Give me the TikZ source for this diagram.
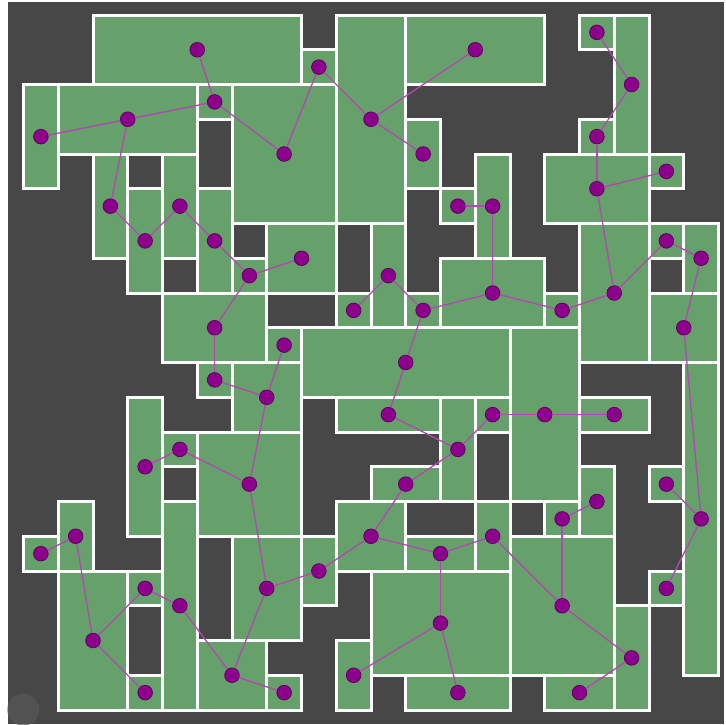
\documentclass[tikz,border=0pt]{standalone}
\usetikzlibrary{calc}
\definecolor{bgdark}{RGB}{71,71,71}
\definecolor{roomgreen}{RGB}{102,160,106}
\definecolor{dotfill}{RGB}{140,0,140}
\definecolor{dotline}{RGB}{95,0,95}
\definecolor{linkcol}{RGB}{178,72,178}
\definecolor{cursorgray}{RGB}{88,88,88}
\tikzset{
  roomsty/.style={fill=roomgreen,draw=white,line width=3pt},
  dot/.style={circle,inner sep=0pt,minimum size=14.6pt,fill=dotfill,draw=dotline,line width=0.8pt},
  link/.style={draw=linkcol,line width=1.3pt},
}
\newcommand\room[5]{\draw[roomsty] (#2,#3) rectangle (#4,#5);}
\newcommand\dotat[5]{\node[dot] (#1) at ($(#2,#3)!0.5!(#4,#5)$) {};}
\begin{document}
\begin{tikzpicture}[x=34.75pt,y=-34.75pt]
\useasboundingbox (-0.67626,-0.43165) rectangle (20.21583,20.40288);
\fill[white] (-0.67626,-0.43165) rectangle (20.21583,20.40288);
\fill[bgdark] (-0.44604,-0.37410) rectangle (20.16,20.40288);
\node[circle,inner sep=0pt,minimum size=32pt,fill=cursorgray,opacity=0.7] (cursor) at (-0.0058,19.99) {};
\def\rooms{A/2/0/8/2,B/8/1/9/2,C/9/0/11/6,D/11/0/15/2,E/16/0/17/1,F/17/0/18/4,
G/0/2/1/5,H/1/2/5/4,I/5/2/6/3,J/6/2/9/6,K/11/3/12/5,L/16/3/17/4,M/15/4/18/6,
N/18/4/19/5,O/12/5/13/6,P/13/4/14/7,Q/2/4/3/7,R/3/5/4/8,S/4/4/5/7,T/5/5/6/8,
U/6/7/7/8,V/7/6/9/8,W/10/6/11/9,X/9/8/10/9,Y/11/8/12/9,Z/4/8/7/10,AA/7/9/8/10,
AB/8/9/14/11,AC/14/9/16/14,AD/16/11/18/12,AE/18/13/19/14,AF/16/13/17/15,
AG/15/14/16/15,AH/13/14/14/16,AI/14/15/17/19,AJ/17/17/18/20,AK/18/16/19/17,
AL/19/10/20/19,AM/15/19/17/20,AN/10/16/14/19,AO/11/19/14/20,AP/9/18/10/20,
AQ/9/14/11/16,AR/11/15/13/16,AS/10/13/12/14,AT/8/15/9/17,AU/6/15/8/18,
AV/5/12/8/15,AW/7/19/8/20,AX/5/18/7/20,AY/0/15/1/16,AZ/1/14/2/16,BA/1/16/3/20,
BB/3/16/4/17,BC/3/19/4/20,BD/3/11/4/15,BE/4/12/5/13,BF/4/14/5/20,BG/5/10/6/11,
BH/6/10/8/12,BI/9/11/12/12,BJ/12/11/13/14,BK/13/11/14/12,BL/18/8/20/10,
BM/19/6/20/8,BN/16/6/18/10,BO/12/7/15/9,BP/15/8/16/9,BQ/18/6/19/7}
\foreach \n/\a/\b/\c/\d in \rooms {\room{\n}{\a}{\b}{\c}{\d}}
\foreach \n/\a/\b/\c/\d in \rooms {\dotat{\n}{\a}{\b}{\c}{\d}}
\foreach \u/\v in {A/I,I/H,H/G,H/Q,I/J,J/B,B/C,C/D,C/K,O/P,P/BO,E/F,F/L,L/M,M/N,M/BN,
Q/R,R/S,S/T,T/U,U/V,U/Z,Z/BG,BG/BH,AA/BH,BH/AV,AV/AU,BE/AV,BD/BE,W/X,W/Y,Y/BO,Y/AB,
AB/BI,BI/BJ,BJ/BK,BJ/AS,BO/BP,BP/BN,BN/BQ,BQ/BM,BM/BL,BL/AL,BK/AC,AC/AD,AE/AL,AL/AK,
AG/AF,AG/AI,AH/AI,AI/AJ,AJ/AM,AS/AQ,AQ/AR,AR/AH,AR/AN,AN/AP,AN/AO,AQ/AT,AT/AU,AU/AX,
AX/AW,BB/BF,BF/AX,BA/BB,BA/AZ,AZ/AY,BA/BC}
  {\draw[link] (\u) -- (\v);}
\end{tikzpicture}
\end{document}
